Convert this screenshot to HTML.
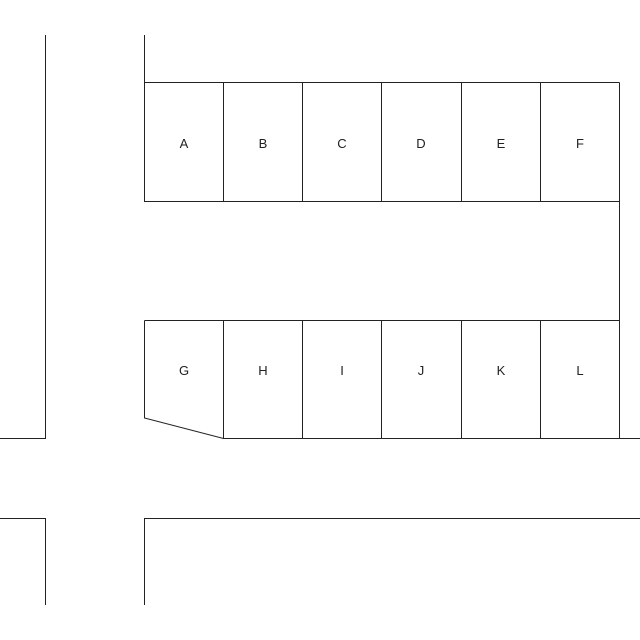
<!DOCTYPE html>
<html><head><style>body{margin:0;background:#fff}</style></head><body>
<svg width="640" height="640" xmlns="http://www.w3.org/2000/svg" style="display:block">
<g stroke="#222" stroke-width="1" fill="none">
<polyline points="45.5,35 45.5,438.5 0,438.5"/>
<polyline points="0,518.5 45.5,518.5 45.5,605"/>
<polyline points="144.5,605 144.5,518.5 640,518.5"/>
<polyline points="144.5,35 144.5,201.5 619.5,201.5"/>
<line x1="144.5" y1="82.5" x2="619.5" y2="82.5"/>
<line x1="619.5" y1="82.5" x2="619.5" y2="438.5"/>
<line x1="144.5" y1="320.5" x2="619.5" y2="320.5"/>
<polyline points="144.5,320.5 144.5,418 223.5,438.5 640,438.5"/>
<line x1="223.5" y1="82.5" x2="223.5" y2="201.5"/>
<line x1="302.5" y1="82.5" x2="302.5" y2="201.5"/>
<line x1="381.5" y1="82.5" x2="381.5" y2="201.5"/>
<line x1="461.5" y1="82.5" x2="461.5" y2="201.5"/>
<line x1="540.5" y1="82.5" x2="540.5" y2="201.5"/>
<line x1="223.5" y1="320.5" x2="223.5" y2="438.5"/>
<line x1="302.5" y1="320.5" x2="302.5" y2="438.5"/>
<line x1="381.5" y1="320.5" x2="381.5" y2="438.5"/>
<line x1="461.5" y1="320.5" x2="461.5" y2="438.5"/>
<line x1="540.5" y1="320.5" x2="540.5" y2="438.5"/>
</g>
<g font-family="Liberation Sans, sans-serif" font-size="13" fill="#222" text-anchor="middle">
<text x="184" y="148">A</text><text x="263" y="148">B</text><text x="342" y="148">C</text>
<text x="421" y="148">D</text><text x="501" y="148">E</text><text x="580" y="148">F</text>
<text x="184" y="375">G</text><text x="263" y="375">H</text><text x="342" y="375">I</text>
<text x="421" y="375">J</text><text x="501" y="375">K</text><text x="580" y="375">L</text>
</g>
</svg>
</body></html>
